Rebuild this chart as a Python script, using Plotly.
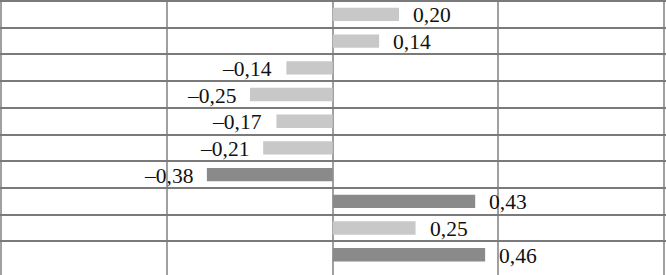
import plotly.graph_objects as go

categories = ["r1", "r2", "r3", "r4", "r5", "r6", "r7", "r8", "r9", "r10"]
values = [0.20, 0.14, -0.14, -0.25, -0.17, -0.21, -0.38, 0.43, 0.25, 0.46]
shades = ["light", "light", "light", "light", "light", "light", "dark", "dark", "light", "dark"]

palette = {"light": "#c8c8c8", "dark": "#8a8a8a"}

def fmt(v):
    return f"{v:.2f}".replace(".", ",").replace("-", "\u2013")

fig = go.Figure()
fig.add_trace(go.Bar(
    y=categories, x=values, orientation="h",
    marker=dict(color=[palette[s] for s in shades], line=dict(width=0)),
    width=0.5, hoverinfo="skip",
))

for c, v in zip(categories, values):
    fig.add_annotation(
        x=v, y=c, text=fmt(v), showarrow=False,
        xanchor="left" if v >= 0 else "right",
        xshift=12 if v >= 0 else -12, yshift=-1,
        font=dict(family="Liberation Serif", size=21.5, color="#111111"),
    )

fig.update_layout(
    width=666, height=275,
    margin=dict(l=0, r=0, t=0, b=0),
    paper_bgcolor="white", plot_bgcolor="white",
    showlegend=False,
    xaxis=dict(range=[-1.0045, 1.006], dtick=0.5, tick0=0,
               showticklabels=False, showgrid=True, gridcolor="#a0a0a0", gridwidth=1.5,
               zeroline=False, showline=False, ticks=""),
    yaxis=dict(categoryorder="array", categoryarray=categories,
               range=[9.76, -0.54], tickson="boundaries",
               showticklabels=False, showgrid=True, gridcolor="#7a7a7a", gridwidth=2,
               zeroline=False, showline=False, ticks=""),
)

fig.write_html("out.html", config={"displayModeBar": False},
               post_script="document.body.style.margin='0';document.body.style.overflow='hidden';")
